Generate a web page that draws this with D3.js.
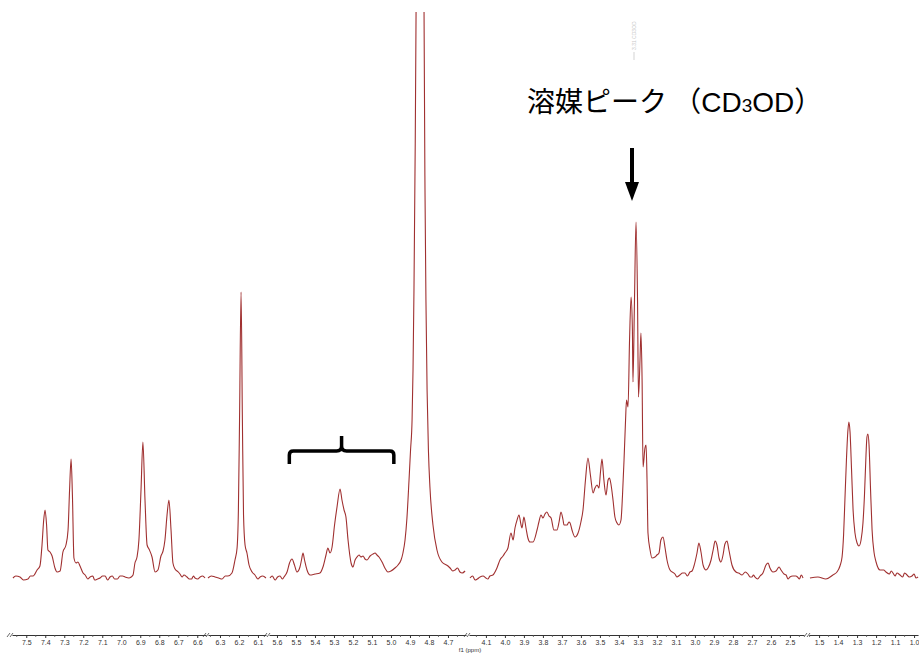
<!DOCTYPE html>
<html>
<head>
<meta charset="utf-8">
<script src="https://cdn.jsdelivr.net/npm/d3@7"></script>
<style>
  html, body { margin: 0; padding: 0; background: #fff; }
  svg { display: block; }
</style>
</head>
<body>
<svg id="chart" width="919" height="654"></svg>
<script>
// ---- 1H NMR spectrum in CD3OD, shown on a broken ppm axis ----
// Each region: [chemical shift (ppm), intensity (a.u.)]

// aromatic region
const regionA = [
  [7.570,0],[7.555,0.5],[7.533,0.25],[7.515,-0.5],[7.491,-0.25],[7.478,0.5],[7.464,0.5],[7.443,2],
  [7.428,3],[7.417,8.25],[7.409,14],[7.401,17],[7.393,13.25],[7.386,7],[7.375,6.5],[7.364,5.5],
  [7.349,2.5],[7.338,1.5],[7.322,1.75],[7.307,6.5],[7.291,8.25],[7.280,12],[7.272,22],[7.264,29.75],
  [7.257,20.75],[7.249,5],[7.238,3.75],[7.228,4],[7.217,3],[7.201,1.25],[7.190,0.75],[7.176,-0.25],
  [7.164,0.25],[7.150,0.5],[7.140,-0.5],[7.125,-0.25],[7.112,0],[7.098,0.5],[7.085,0.5],[7.072,-0.5],
  [7.059,0.25],[7.047,0.5],[7.035,-0.25],[7.020,-0.25],[7.007,0.5],[6.993,0.5],[6.980,0.25],
  [6.960,0],[6.948,0.25],[6.938,0.75],[6.928,3.75],[6.917,5.25],[6.907,9.5],[6.896,22],[6.886,34],
  [6.875,19.5],[6.864,8.25],[6.854,7.25],[6.838,5.25],[6.822,1.5],[6.807,2],[6.791,5.5],[6.780,6.75],
  [6.770,9.5],[6.759,15.75],[6.749,19.5],[6.738,12],[6.728,3.75],[6.717,2.25],[6.700,1.5],[6.691,1],
  [6.680,0.25],[6.670,0.75],[6.654,0.25],[6.642,-0.25],[6.630,-0.25],[6.620,0.5],[6.612,0],
  [6.597,-0.25],[6.585,0.25],[6.572,0.5],[6.559,0]
];

// olefinic singlet
const regionB = [
  [6.363,0],[6.345,0.5],[6.326,0.25],[6.307,0],[6.289,-0.25],[6.272,0.5],[6.258,0.5],[6.237,1.25],
  [6.221,4.5],[6.210,7.5],[6.203,17],[6.197,39.5],[6.189,71.5],[6.182,39.5],[6.176,15.75],[6.168,8.25],
  [6.158,6.25],[6.147,3.25],[6.131,1.5],[6.116,0.75],[6.100,-0.25],[6.089,0.25],[6.075,0.5],[6.058,0]
];

// anomeric region and residual water
const regionC = [
  [5.637,0],[5.625,0.5],[5.610,-0.5],[5.597,0.25],[5.584,0.5],[5.572,-0.25],[5.563,0.25],[5.547,1.5],
  [5.534,3.75],[5.521,4.75],[5.508,3.25],[5.495,1.5],[5.479,2.75],[5.471,4.5],[5.463,6.25],[5.455,4.5],
  [5.442,2],[5.426,0.75],[5.400,1],[5.374,1.25],[5.358,2.75],[5.342,5.75],[5.332,7.5],[5.321,6.25],
  [5.310,7.75],[5.297,13.25],[5.284,17.75],[5.268,22.25],[5.258,19.5],[5.247,17],[5.237,15.25],
  [5.226,9.5],[5.210,3.75],[5.200,2.75],[5.189,4.5],[5.179,5.25],[5.168,5.75],[5.158,5.25],
  [5.147,5.5],[5.137,4.75],[5.126,4.5],[5.110,5.5],[5.095,6],[5.084,6.25],[5.074,5.75],[5.063,5.25],
  [5.047,4],[5.032,2.5],[5.016,1.5],[5.000,1.75],[4.979,2.5],[4.963,3.25],[4.947,4.5],[4.937,6.25],
  [4.926,9.5],[4.916,15],[4.905,24.5],[4.897,32],[4.889,39.5],[4.884,52],[4.879,72],[4.874,99.5],
  [4.868,141.5],[4.863,227],[4.855,543],[4.847,1012],[4.839,543],[4.831,227],[4.826,141.5],
  [4.821,97],[4.816,69.5],[4.810,47],[4.803,32],[4.795,22.75],[4.779,13.25],[4.758,7],[4.732,4],
  [4.700,3],[4.689,2.5],[4.675,1.75],[4.663,2],[4.650,2.5],[4.637,1.5],[4.625,1.25],[4.610,1.75]
];

// sugar / aliphatic region with the solvent multiplet
const regionD = [
  [4.184,0],[4.170,0.5],[4.157,-0.5],[4.145,-0.25],[4.131,0.25],[4.115,0.5],[4.100,0],[4.090,-0.25],
  [4.079,0.5],[4.063,0.75],[4.042,2.5],[4.026,4.5],[4.010,5.5],[4.000,6.25],[3.984,7.5],[3.968,11.25],
  [3.957,9.5],[3.947,12.5],[3.936,14.5],[3.926,15.75],[3.915,13.25],[3.910,12.5],[3.900,15.25],
  [3.889,12.5],[3.879,10],[3.868,9],[3.852,9],[3.831,12],[3.821,14],[3.810,15.75],[3.800,15],
  [3.789,16],[3.779,16.5],[3.768,15.5],[3.757,15],[3.742,12],[3.726,12],[3.715,14],[3.705,16.5],
  [3.694,14.5],[3.689,13.25],[3.673,13.25],[3.663,14],[3.657,13.75],[3.647,12],[3.631,10.25],
  [3.615,11.25],[3.600,14],[3.589,17],[3.576,24.5],[3.563,30],[3.550,25.75],[3.536,21.25],
  [3.526,22.5],[3.515,23.25],[3.505,22.5],[3.497,26.5],[3.489,29.75],[3.479,24.5],[3.468,20.75],
  [3.457,24.5],[3.450,25],[3.442,23.5],[3.431,19.5],[3.421,15.25],[3.410,13.75],[3.400,13.25],
  [3.389,14.5],[3.381,20.75],[3.373,29.5],[3.365,39.5],[3.360,44.5],[3.352,42.75],[3.344,59.5],
  [3.336,70.25],[3.329,62],[3.326,49],[3.318,69.5],[3.310,89],[3.302,69.5],[3.297,45.25],
  [3.289,54.5],[3.284,61.25],[3.278,49.5],[3.273,27.75],[3.263,32.5],[3.257,33.25],[3.252,24.5],
  [3.247,11.25],[3.236,7],[3.226,5],[3.210,5.25],[3.200,5.75],[3.189,6.25],[3.179,9.5],[3.168,10.25],
  [3.157,7.5],[3.147,4.5],[3.131,2],[3.105,1],[3.095,0.25],[3.079,0.75],[3.065,1.25],[3.052,1.25],
  [3.040,0.5],[3.026,1.5],[3.015,1.75],[3.005,3],[2.989,6.25],[2.979,8.75],[2.968,6.5],[2.957,3.25],
  [2.942,2],[2.931,2.5],[2.915,4.5],[2.902,7.5],[2.894,9.25],[2.884,8.25],[2.873,5],[2.863,4],
  [2.852,5.75],[2.842,8.5],[2.831,9.25],[2.821,7],[2.805,3.25],[2.784,1.5],[2.770,1.25],[2.752,0.75],
  [2.735,1.5],[2.721,1],[2.710,0.25],[2.700,0.25],[2.692,0.75],[2.684,0.25],[2.670,-0.25],
  [2.657,0.5],[2.642,1.25],[2.626,3.25],[2.615,3.75],[2.605,2.5],[2.589,1.5],[2.573,1.75],
  [2.557,2.75],[2.547,2],[2.531,1],[2.520,0.75],[2.510,-0.25],[2.500,0.25],[2.485,0.5],[2.468,0.5],
  [2.460,0.25],[2.450,-0.25],[2.440,0.75],[2.431,0]
];

// methyl doublet
const regionE = [
  [1.548,0],[1.506,0.25],[1.464,-0.25],[1.427,0.75],[1.406,1.5],[1.390,3],[1.379,5.25],[1.371,10.75],
  [1.364,19.5],[1.356,29.5],[1.348,37],[1.343,39],[1.337,36.5],[1.329,27],[1.321,17],[1.311,11.25],
  [1.300,8.75],[1.290,8],[1.279,9.5],[1.269,13.75],[1.261,20.75],[1.253,30.75],[1.248,35.25],
  [1.243,36],[1.237,33.25],[1.229,22],[1.221,12],[1.211,6.5],[1.200,4],[1.179,2],[1.160,2],
  [1.148,1.5],[1.130,1],[1.120,1.75],[1.111,1.25],[1.100,0.5],[1.090,1.25],[1.074,0.75],
  [1.060,0.25],[1.050,1.25],[1.042,1],[1.025,0.25],[1.011,0.5],[1.000,1],[0.990,0],[0.979,0.25]
];

// ppm windows kept on the axis
const windowA = [7.575, 6.554];
const windowB = [6.363, 6.058];
const windowC = [5.642, 4.605];
const windowD = [4.189, 2.426];
const windowE = [1.553, 0.979];

// labelled ticks for each window
const ticksA = [7.5, 7.4, 7.3, 7.2, 7.1, 7.0, 6.9, 6.8, 6.7, 6.6];
const ticksB = [6.3, 6.2, 6.1];
const ticksC = [5.6, 5.5, 5.4, 5.3, 5.2, 5.1, 5.0, 4.9, 4.8, 4.7];
const ticksD = [4.1, 4.0, 3.9, 3.8, 3.7, 3.6, 3.5, 3.4, 3.3, 3.2, 3.1, 3.0, 2.9, 2.8, 2.7, 2.6, 2.5];
const ticksE = [1.5, 1.4, 1.3, 1.2, 1.1, 1.0];

const axisTitle = "f1 (ppm)";
const solventShift = 3.31;
const peakTag = "3.31 CD3OD";

// ---- layout ----
const W = 919, H = 654;
const baseY = 578, axisY = 635, clipTop = 12;
const pxPerPpm = 190;

const panels = [
  { data: regionA, win: windowA, ticks: ticksA, x0: 12 },
  { data: regionB, win: windowB, ticks: ticksB, x0: 208 },
  { data: regionC, win: windowC, ticks: ticksC, x0: 269 },
  { data: regionD, win: windowD, ticks: ticksD, x0: 469 },
  { data: regionE, win: windowE, ticks: ticksE, x0: 809 }
];
panels.forEach(p => {
  p.x = d3.scaleLinear()
    .domain(p.win)
    .range([p.x0, p.x0 + (p.win[0] - p.win[1]) * pxPerPpm]);
});

const y = d3.scaleLinear().domain([0, 100]).range([baseY, baseY - 400]);

const svg = d3.select("#chart");

svg.append("defs").append("clipPath").attr("id", "plotClip")
  .append("rect").attr("x", 0).attr("y", clipTop).attr("width", W).attr("height", H - clipTop);

const plot = svg.append("g").attr("clip-path", "url(#plotClip)");

// spectrum trace, one path per window
panels.forEach(p => {
  const line = d3.line()
    .x(d => p.x(d[0]))
    .y(d => y(d[1]))
    .curve(d3.curveMonotoneX);
  plot.append("path")
    .datum(p.data.slice().sort((a, b) => b[0] - a[0]))
    .attr("d", line)
    .attr("fill", "none")
    .attr("stroke", "#a03030")
    .attr("stroke-width", 1.1)
    .attr("stroke-linejoin", "round");
});

// ---- broken ppm axis ----
const axisG = svg.append("g").attr("transform", `translate(0,${axisY})`);
panels.forEach(p => {
  const g = axisG.append("g")
    .call(d3.axisBottom(p.x)
      .tickValues(p.ticks)
      .tickSize(3)
      .tickSizeOuter(0)
      .tickPadding(2)
      .tickFormat(d3.format(".1f")));
  g.select(".domain").attr("stroke", "#333").attr("stroke-width", 1);
  g.selectAll(".tick line").attr("stroke", "#333");
  g.selectAll(".tick text")
    .attr("fill", "#333")
    .style("font-family", "'Liberation Sans', Arial, sans-serif")
    .style("font-size", "7px");

  // minor ticks between the labelled ones
  const lo = Math.min(...p.win), hi = Math.max(...p.win);
  const minor = d3.range(Math.ceil(lo / 0.05), Math.floor(hi / 0.05) + 1)
    .map(k => k * 0.05)
    .filter(v => !p.ticks.some(t => Math.abs(t - v) < 1e-6));
  g.selectAll(".minor").data(minor).join("line")
    .attr("class", "minor")
    .attr("x1", d => p.x(d)).attr("x2", d => p.x(d))
    .attr("y1", 0).attr("y2", 2)
    .attr("stroke", "#555").attr("stroke-width", 0.8);

  // break marks at the start of each window
  const bx = p.x.range()[0] - 3;
  [0, 3].forEach(off => {
    axisG.append("line")
      .attr("x1", bx + off - 2).attr("y1", 2)
      .attr("x2", bx + off + 1).attr("y2", -2)
      .attr("stroke", "#444").attr("stroke-width", 0.8);
  });
});

svg.append("text")
  .attr("x", 470).attr("y", 652)
  .attr("text-anchor", "middle")
  .attr("fill", "#333")
  .style("font-family", "'Liberation Sans', Arial, sans-serif")
  .style("font-size", "6px")
  .text(axisTitle);

// ---- peak tag above the solvent signal ----
const solventX = panels[3].x(solventShift) - 2;
svg.append("line")
  .attr("x1", solventX).attr("x2", solventX)
  .attr("y1", 52).attr("y2", 60)
  .attr("stroke", "#c8c8c8").attr("stroke-width", 0.8);
svg.append("text")
  .attr("transform", `translate(${solventX + 2},50) rotate(-90)`)
  .attr("fill", "#c8c8c8")
  .style("font-family", "'Liberation Sans', Arial, sans-serif")
  .style("font-size", "5px")
  .text(peakTag);

// ---- annotations ----
const note = svg.append("text")
  .attr("x", 527).attr("y", 112)
  .attr("fill", "#000")
  .style("font-family", "'Noto Sans CJK JP', sans-serif")
  .style("font-size", "28px");
note.append("tspan").text("溶媒ピーク （");
note.append("tspan").style("font-family", "'Liberation Sans', Arial, sans-serif").text("CD");
note.append("tspan").style("font-family", "'Liberation Sans', Arial, sans-serif").style("font-size", "19px").text("3");
note.append("tspan").style("font-family", "'Liberation Sans', Arial, sans-serif").text("OD");
note.append("tspan").text("）");

// arrow pointing at the solvent multiplet
const ax = solventX - 2;
svg.append("line")
  .attr("x1", ax).attr("x2", ax)
  .attr("y1", 148).attr("y2", 184)
  .attr("stroke", "#000").attr("stroke-width", 4);
svg.append("path")
  .attr("d", `M${ax - 7},182 L${ax + 7},182 L${ax},201 Z`)
  .attr("fill", "#000");

// curly bracket over the 5.5–5.0 ppm signals
const bL = panels[2].x(5.535), bR = panels[2].x(4.985), bM = (bL + bR) / 2;
svg.append("path")
  .attr("d", `M${bL},464 L${bL},455 Q${bL},451 ${bL + 4},451 L${bM - 5},451 Q${bM},451 ${bM},446 L${bM},436`
           + ` M${bM},446 Q${bM},451 ${bM + 5},451 L${bR - 4},451 Q${bR},451 ${bR},455 L${bR},464`)
  .attr("fill", "none")
  .attr("stroke", "#000")
  .attr("stroke-width", 3.5);
</script>
</body>
</html>
